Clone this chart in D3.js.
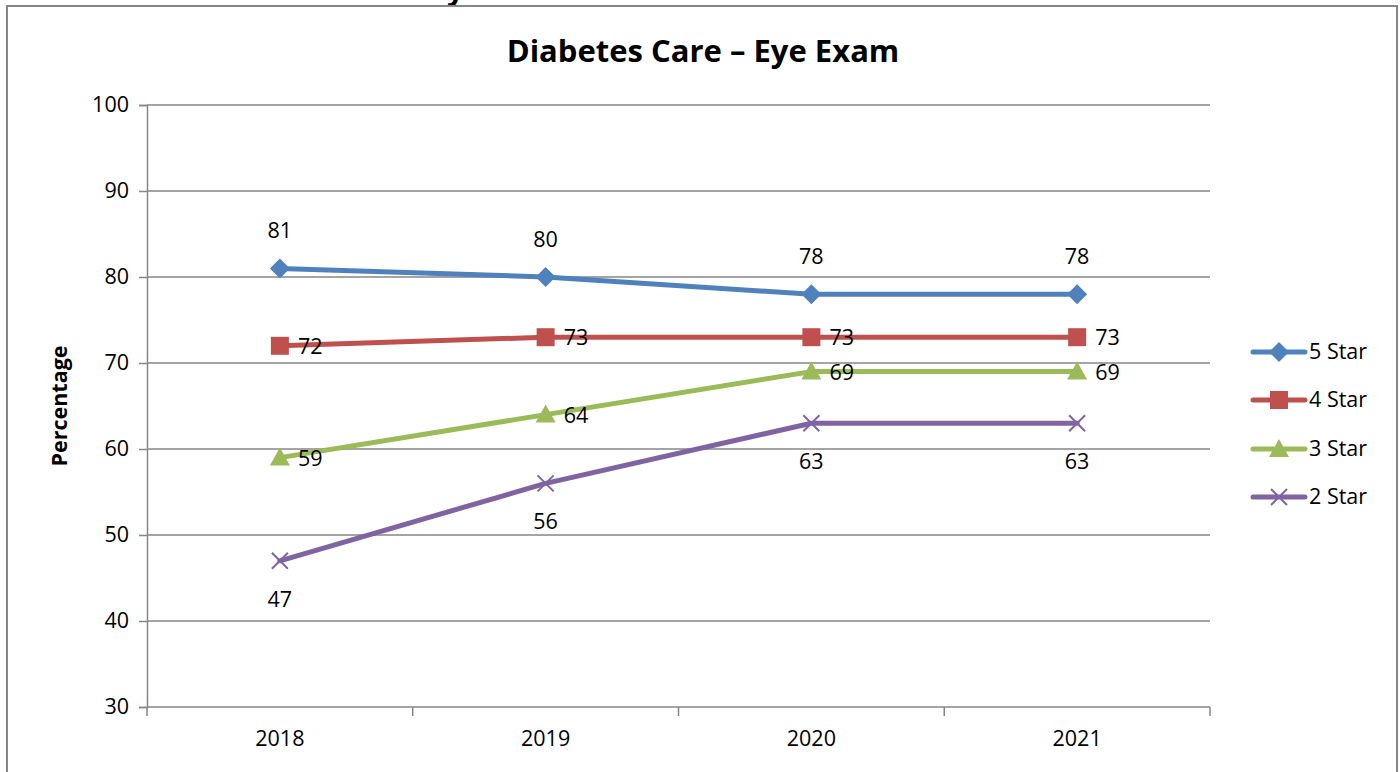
<!DOCTYPE html>
<html><head><meta charset="utf-8">
<script src="https://cdn.jsdelivr.net/npm/d3@7"></script>
<style>body{margin:0;background:#fff;overflow:hidden}svg{display:block}text{font-family:"Open Sans","Noto Sans",sans-serif;fill:#000}</style>
</head><body>
<svg id="c" width="1400" height="772"></svg>
<script>
const categories = ["2018","2019","2020","2021"];
const seriesNames = ["5 Star","4 Star","3 Star","2 Star"];
const star5 = [81,80,78,78];
const star4 = [72,73,73,73];
const star3 = [59,64,69,69];
const star2 = [47,56,63,63];
const yTicks = [30,40,50,60,70,80,90,100];
const colors = ["#4F81BD","#C0504D","#9BBB59","#8064A2"];
const markers = ["diamond","square","triangle","x"];
const labelPos = ["above","right","right","below"];
const seriesValues = [star5, star4, star3, star2];

const FS = 21.5;
const svg = d3.select("#c");
// partially cut-off header text above the chart
svg.append("text").attr("x",20).attr("y",0).attr("font-size",30).attr("font-weight","bold")
  .attr("fill","#333").text("Measure 3: Diabetes Care – Eye Exam");
// chart border
svg.append("rect").attr("x",7).attr("y",6).attr("width",1390).attr("height",780)
  .attr("fill","#fff").attr("stroke","#868686").attr("stroke-width",2);

const L=147,R=1210,T=105,B=707;
const x = d3.scaleBand().domain(categories).range([L,R]);
const y = d3.scaleLinear().domain([30,100]).range([B,T]);
const cx = d => x(d)+x.bandwidth()/2;

// gridlines
svg.append("g").selectAll("line").data(yTicks).join("line")
  .attr("x1",L).attr("x2",R).attr("y1",d=>y(d)).attr("y2",d=>y(d))
  .attr("stroke","#868686").attr("stroke-width",1.5);

// y axis
const ya = svg.append("g").attr("transform",`translate(${L},0)`)
  .call(d3.axisLeft(y).tickValues(yTicks).tickSize(8).tickPadding(10));
ya.select(".domain").attr("stroke","#868686").attr("stroke-width",1.5);
ya.selectAll(".tick line").attr("stroke","#868686").attr("stroke-width",1.5);
ya.selectAll("text").attr("font-size",FS).attr("font-family","'Open Sans',sans-serif").attr("fill","#000");

// x axis
const xa = svg.append("g").attr("transform",`translate(0,${B})`)
  .call(d3.axisBottom(x).tickSize(0).tickPadding(24));
xa.select(".domain").remove();
xa.selectAll("text").attr("font-size",FS).attr("font-family","'Open Sans',sans-serif").attr("fill","#000");
const edges = categories.map(c=>x(c)).concat([R]);
svg.append("g").selectAll("line").data(edges).join("line")
  .attr("x1",d=>d).attr("x2",d=>d).attr("y1",B).attr("y2",B+9)
  .attr("stroke","#868686").attr("stroke-width",1.5);

// title
svg.append("text").attr("x",703).attr("y",62).attr("text-anchor","middle")
  .attr("font-size",31).attr("font-weight","bold").text("Diabetes Care – Eye Exam");
// y label
svg.append("text").attr("transform","translate(67,406) rotate(-90)").attr("text-anchor","middle")
  .attr("font-size",21.5).attr("font-weight","bold").text("Percentage");

function drawMarker(g, type, col, px, py){
  if(type==="diamond"){
    g.append("path").attr("d",`M${px},${py-10}L${px+10},${py}L${px},${py+10}L${px-10},${py}Z`).attr("fill",col);
  } else if(type==="square"){
    g.append("rect").attr("x",px-9).attr("y",py-9).attr("width",18).attr("height",18).attr("fill",col);
  } else if(type==="triangle"){
    g.append("path").attr("d",`M${px},${py-10}L${px+10},${py+8}L${px-10},${py+8}Z`).attr("fill",col);
  } else {
    g.append("path").attr("d",`M${px-8},${py-8}L${px+8},${py+8}M${px-8},${py+8}L${px+8},${py-8}`)
      .attr("stroke",col).attr("stroke-width",2).attr("fill","none");
  }
}

const line = d3.line().x((d,i)=>cx(categories[i])).y(d=>y(d));
seriesValues.forEach((vals,si)=>{
  const g = svg.append("g");
  g.append("path").datum(vals).attr("d",line).attr("fill","none")
    .attr("stroke",colors[si]).attr("stroke-width",5).attr("stroke-linejoin","round").attr("stroke-linecap","round");
  vals.forEach((v,i)=>{
    const px=cx(categories[i]), py=y(v);
    drawMarker(g, markers[si], colors[si], px, py);
    const t = g.append("text").attr("font-size",FS).text(v);
    if(labelPos[si]==="above") t.attr("x",px).attr("y",py-30).attr("text-anchor","middle");
    else if(labelPos[si]==="below") t.attr("x",px).attr("y",py+46).attr("text-anchor","middle");
    else t.attr("x",px+18).attr("y",py+8).attr("text-anchor","start");
  });
});

// legend
const legY = [352,400,449,497];
seriesNames.forEach((n,si)=>{
  const g = svg.append("g");
  g.append("line").attr("x1",1253).attr("x2",1305).attr("y1",legY[si]).attr("y2",legY[si])
    .attr("stroke",colors[si]).attr("stroke-width",5).attr("stroke-linecap","round");
  drawMarker(g, markers[si], colors[si], 1279, legY[si]);
  g.append("text").attr("x",1309).attr("y",legY[si]+7).attr("font-size",FS).text(n);
});
</script>
</body></html>
